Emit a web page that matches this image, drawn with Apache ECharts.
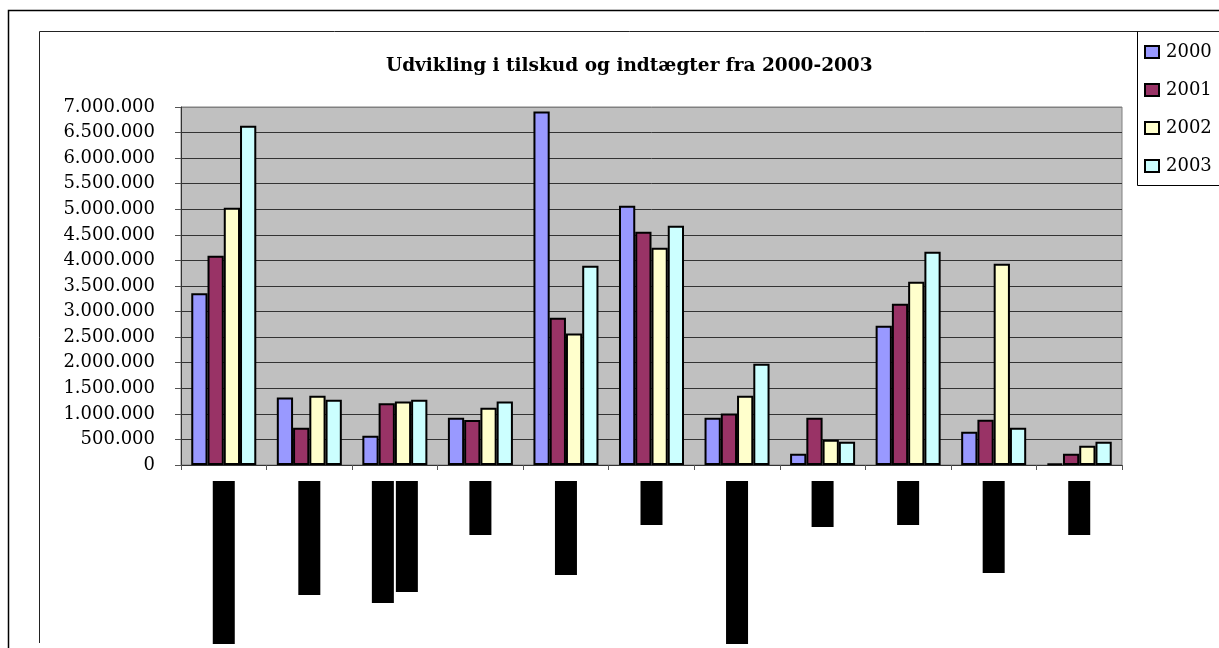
<!DOCTYPE html>
<html>
<head>
<meta charset="utf-8">
<title>Udvikling i tilskud og indtægter fra 2000-2003</title>
<script src="https://cdn.jsdelivr.net/npm/echarts@6/dist/echarts.min.js"></script>
<style>
  html, body { margin: 0; padding: 0; background: #fff; }
  #chart { width: 1219px; height: 648px; }
</style>
</head>
<body>
<div id="chart"></div>
<script>
// category names are blacked out in the source, only their boxes are visible
const categories = ['Post 1', 'Post 2', 'Post 3', 'Post 4', 'Post 5', 'Post 6',
  'Post 7', 'Post 8', 'Post 9', 'Post 10', 'Post 11']
const years = ['2000', '2001', '2002', '2003']
const s2000 = [3360000, 1320000, 570000, 925000, 6910000, 5070000, 925000, 220000, 2725000, 650000, 25000]
const s2001 = [4090000, 730000, 1205000, 880000, 2880000, 4560000, 1005000, 925000, 3155000, 885000, 220000]
const s2002 = [5030000, 1355000, 1240000, 1120000, 2570000, 4250000, 1355000, 495000, 3585000, 3935000, 375000]
const s2003 = [6635000, 1275000, 1275000, 1240000, 3895000, 4680000, 1980000, 455000, 4170000, 730000, 455000]

// length of the black redaction box for each label (cat 3 is wrapped in two lines)
const boxLen = [[163], [114], [111, 122], [54], [94], [44], [163], [46], [44], [92], [54]]

const colors = ['#9999FF', '#993366', '#FFFFCC', '#CCFFFF']
const font = 'DejaVu Serif'

function fmt(v) {
  return String(v).replace(/\B(?=(\d{3})+(?!\d))/g, '.')
}

const rich = {}
boxLen.forEach((lens, i) => {
  lens.forEach((len, j) => {
    rich['b' + i + '_' + j] = {
      width: len, height: 22, lineHeight: 24,
      backgroundColor: '#000', color: '#000', fontSize: 8
    }
  })
})

const chart = echarts.init(document.getElementById('chart'))
const option = {
  animation: false,
  backgroundColor: '#fff',
  title: {
    text: 'Udvikling i tilskud og indtægter fra 2000-2003',
    left: 381,
    top: 52,
    textStyle: { fontFamily: font, fontWeight: 'bold', fontSize: 18.5, color: '#000' }
  },
  legend: {
    data: years,
    orient: 'vertical',
    left: 1137,
    top: 31,
    padding: [11, 10, 9, 7],
    itemGap: 18,
    itemWidth: 14,
    itemHeight: 12,
    icon: 'rect',
    textStyle: { fontFamily: font, fontSize: 18, color: '#000', lineHeight: 20, padding: [0, 0, 0, 2] }
  },
  grid: {
    left: 181, top: 107, right: 97, bottom: 183,
    show: true,
    backgroundColor: '#C0C0C0',
    borderColor: '#808080',
    borderWidth: 1
  },
  xAxis: {
    type: 'category',
    data: categories,
    axisLine: { lineStyle: { color: '#333', width: 1 } },
    axisTick: { show: true, length: 5, lineStyle: { color: '#555' } },
    axisLabel: {
      interval: 0,
      rotate: -90,
      margin: 16,
      formatter: (val, idx) => boxLen[idx].map((l, j) => '{b' + idx + '_' + j + '|' + val + '}').join('\n'),
      rich: rich
    }
  },
  yAxis: {
    type: 'value',
    min: 0,
    max: 7000000,
    interval: 500000,
    axisLine: { show: true, lineStyle: { color: '#333' } },
    axisTick: { show: true, length: 6, lineStyle: { color: '#555' } },
    axisLabel: {
      margin: 26,
      fontFamily: font,
      fontSize: 18,
      color: '#000',
      formatter: fmt
    },
    splitLine: {
      show: true,
      lineStyle: {
        color: ['#333', '#333', '#333', '#333', '#333', '#333', '#333', '#333',
          '#333', '#333', '#333', '#333', '#333', '#333', '#808080'],
        width: 1
      }
    }
  },
  series: [s2000, s2001, s2002, s2003].map((d, i) => ({
    name: years[i],
    type: 'bar',
    data: d,
    barGap: '0%',
    barCategoryGap: '24%',
    itemStyle: { color: colors[i], borderColor: '#000', borderWidth: 2 }
  })),
  graphic: [
    {
      type: 'polyline',
      shape: { points: [[8.5, 648], [8.5, 10.5], [1219, 10.5]] },
      style: { stroke: '#000', lineWidth: 1.5, fill: null },
      silent: true
    },
    {
      type: 'polyline',
      shape: { points: [[39.5, 643], [39.5, 31.5], [1219, 31.5]] },
      style: { stroke: '#222', lineWidth: 1, fill: null },
      silent: true
    },
    {
      // legend frame runs off the right edge of the picture
      type: 'polyline',
      shape: { points: [[1137.5, 31.5], [1137.5, 185.5], [1219, 185.5]] },
      style: { stroke: '#000', lineWidth: 1, fill: null },
      silent: true
    }
  ]
}
chart.setOption(option)
window.addEventListener('resize', () => chart.resize())
</script>
</body>
</html>
